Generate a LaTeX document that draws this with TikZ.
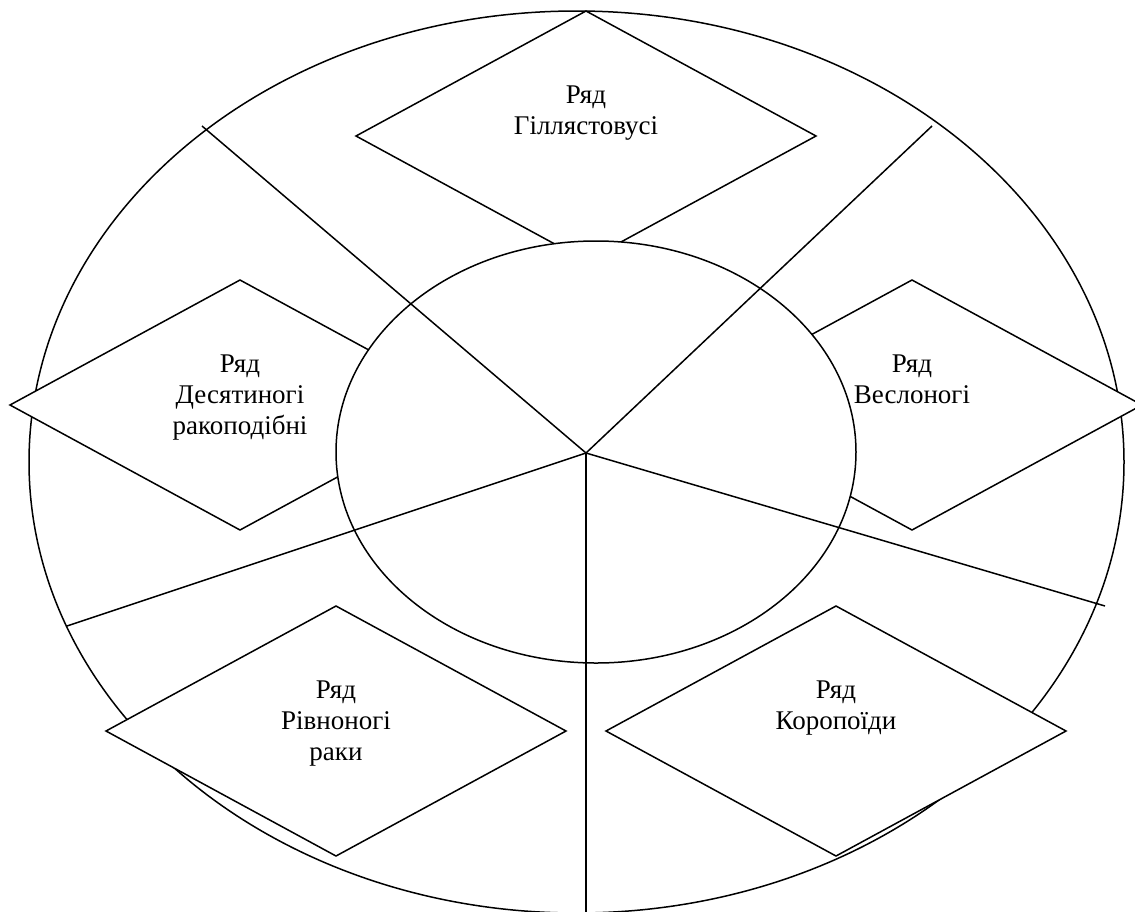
\documentclass[tikz,border=0pt]{standalone}
\usepackage{fontspec}
\setmainfont{Liberation Serif}
\usetikzlibrary{shapes.geometric}
\begin{document}
\begin{tikzpicture}[x=1pt,y=-1pt,
  ln/.style={line width=1.5pt, draw=black},
  oval/.style={draw, ellipse, line width=1.5pt, inner sep=0pt, outer sep=0pt},
  rhomb/.style={draw, diamond, fill=white, line width=1.5pt, minimum width=460pt, minimum height=250pt, inner sep=0pt, outer sep=0pt},
  lbl/.style={anchor=base, inner sep=0pt, font=\fontsize{27}{31}\selectfont}]
\useasboundingbox (0,0) rectangle (1135,911);
% outer ellipse
\node[oval, minimum width=1095pt, minimum height=902pt] (outer) at (576.5,462) {};
% diamonds
\node[rhomb] (dtop) at (586,136) {};
\node[rhomb] (dleft) at (240,405) {};
\node[rhomb] (dright) at (912,405) {};
\node[rhomb] (dbl) at (336,731) {};
\node[rhomb] (dbr) at (836,731) {};
% inner ellipse
\node[oval, fill=white, minimum width=520pt, minimum height=422pt] (inner) at (596,452) {};
% spokes
\coordinate (c) at (586,453);
\coordinate (eul) at (202,126);
\coordinate (eur) at (932,126);
\coordinate (ell) at (67,626);
\coordinate (elr) at (1105,606);
\coordinate (eb) at (586,912);
\draw[ln] (c) -- (eul);
\draw[ln] (c) -- (eur);
\draw[ln] (c) -- (ell);
\draw[ln] (c) -- (elr);
\draw[ln] (c) -- (eb);
% labels
\node[lbl] (ttop) at ([yshift=33pt]dtop.center) {\begin{tabular}[t]{@{}c@{}}Ряд\\Гіллястовусі\end{tabular}};
\node[lbl] (tleft) at ([yshift=33pt]dleft.center) {\begin{tabular}[t]{@{}c@{}}Ряд\\Десятиногі\\ракоподібні\end{tabular}};
\node[lbl] (tright) at ([yshift=33pt]dright.center) {\begin{tabular}[t]{@{}c@{}}Ряд\\Веслоногі\end{tabular}};
\node[lbl] (tbl) at ([yshift=33pt]dbl.center) {\begin{tabular}[t]{@{}c@{}}Ряд\\Рівноногі\\раки\end{tabular}};
\node[lbl] (tbr) at ([yshift=33pt]dbr.center) {\begin{tabular}[t]{@{}c@{}}Ряд\\Коропоїди\end{tabular}};
\end{tikzpicture}
\end{document}
